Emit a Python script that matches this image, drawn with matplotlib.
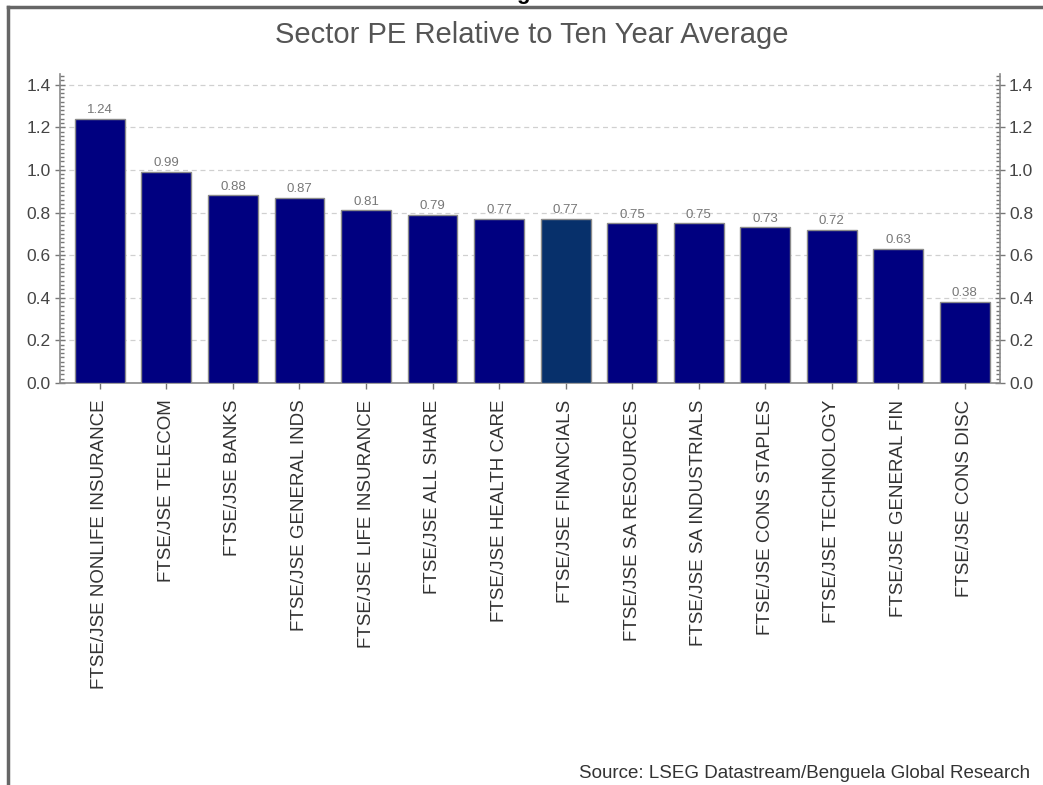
import numpy as np
import matplotlib.pyplot as plt
from matplotlib.ticker import MultipleLocator
from matplotlib.lines import Line2D

# datos del grafico
sectors = ['FTSE/JSE NONLIFE INSURANCE', 'FTSE/JSE TELECOM', 'FTSE/JSE BANKS',
           'FTSE/JSE GENERAL INDS', 'FTSE/JSE LIFE INSURANCE', 'FTSE/JSE ALL SHARE',
           'FTSE/JSE HEALTH CARE', 'FTSE/JSE FINANCIALS', 'FTSE/JSE SA RESOURCES',
           'FTSE/JSE SA INDUSTRIALS', 'FTSE/JSE CONS STAPLES', 'FTSE/JSE TECHNOLOGY',
           'FTSE/JSE GENERAL FIN', 'FTSE/JSE CONS DISC']
pe_rel = [1.24, 0.99, 0.88, 0.87, 0.81, 0.79, 0.77, 0.77, 0.75, 0.75, 0.73, 0.72, 0.63, 0.38]
highlight = 'FTSE/JSE FINANCIALS'

plt.rcParams['font.family'] = ['Liberation Sans', 'DejaVu Sans']

fig = plt.figure(figsize=(10.43, 7.85), dpi=100)
ax = fig.add_axes([60 / 1043, 402 / 785, 940 / 1043, 309 / 785])

x = np.arange(len(sectors))
colors = ['#07306b' if s == highlight else '#000080' for s in sectors]
bars = ax.bar(x, pe_rel, width=0.75, color=colors, edgecolor='#8a8a8a', linewidth=1, zorder=3)

for b, v in zip(bars, pe_rel):
    ax.text(b.get_x() + b.get_width() / 2, v + 0.012, f'{v:.2f}', ha='center', va='bottom',
            fontsize=9.5, color='#777777', zorder=4)

ax.set_xlim(-0.6, 13.53)
ax.set_ylim(0, 1.45)
ax.set_xticks(x)
ax.set_xticklabels(sectors, rotation=90, fontsize=13.5, color='#333333')
ax.yaxis.set_major_locator(MultipleLocator(0.2))
ax.yaxis.set_minor_locator(MultipleLocator(0.02))
ax.yaxis.set_major_formatter(plt.FuncFormatter(lambda v, p: f'{v:.1f}'))
ax.grid(axis='y', color='#d0d0d0', linestyle=(0, (4, 3)), linewidth=0.9, zorder=0)

ax.tick_params(axis='y', which='major', direction='inout', length=7, width=1, color='#777777',
               labelsize=12.5, labelcolor='#444444', left=True, right=True,
               labelleft=True, labelright=True, pad=3)
ax.tick_params(axis='y', which='minor', direction='in', length=3, width=1, color='#777777',
               left=True, right=True)
ax.tick_params(axis='x', direction='out', length=4, width=1, color='#777777', pad=8)
for lbl in ax.get_yticklabels(which='major'):
    pass

for side in ['left', 'right', 'bottom']:
    ax.spines[side].set_color('#8a8a8a')
    ax.spines[side].set_linewidth(1.2)
ax.spines['top'].set_visible(False)

fig.text(532 / 1043, 1 - 35 / 785, 'Sector PE Relative to Ten Year Average', ha='center',
         va='center', fontsize=21, color='#555555')
fig.text(1030 / 1043, 1 - 773 / 785, 'Source: LSEG Datastream/Benguela Global Research',
         ha='right', va='center', fontsize=13.5, color='#333333')

# fragmento del titulo superior recortado
fig.text(523 / 1043, 1 + 1 / 785, 'g', ha='center', va='baseline', fontsize=16,
         fontweight='bold', color='black')

# marco
fig.add_artist(Line2D([8 / 1043, 1], [1 - 7 / 785, 1 - 7 / 785], color='#666666', linewidth=2.5))
fig.add_artist(Line2D([8 / 1043, 8 / 1043], [0, 1 - 7 / 785], color='#666666', linewidth=2.5))

fig.savefig('out.png', dpi=100)
